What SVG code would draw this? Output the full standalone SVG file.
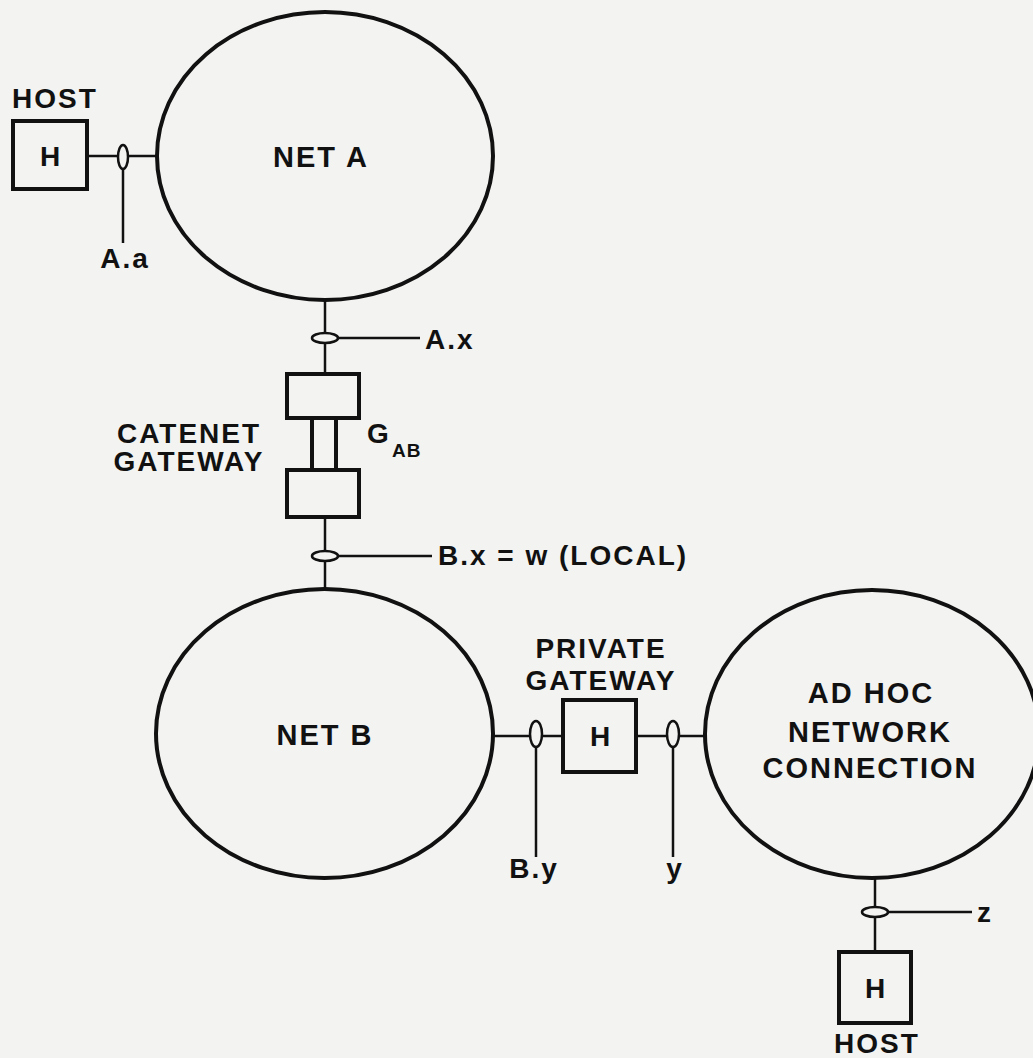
<svg xmlns="http://www.w3.org/2000/svg" width="1033" height="1058" viewBox="0 0 1033 1058">
<style>
.bg{fill:#f3f3f1}
.net{fill:none;stroke:#111;stroke-width:4}
.box{fill:none;stroke:#111;stroke-width:4}
.ln{fill:none;stroke:#111;stroke-width:2.5}
.tap{fill:#f3f3f1;stroke:#111;stroke-width:2.5}
text{font-family:"Liberation Sans",Arial,sans-serif;font-weight:bold;fill:#111;letter-spacing:2px}
.big{font-size:29px}
.mid{font-size:28px}
.sub{font-size:19px;letter-spacing:1px}
</style>
<rect class="bg" x="0" y="0" width="1033" height="1058"/>

<g id="connectors">
  <line class="ln" x1="88" y1="156" x2="157" y2="156"/>
  <line class="ln" x1="123" y1="158" x2="123" y2="243"/>
  <ellipse class="tap" cx="123" cy="157" rx="5" ry="12"/>
  <line class="ln" x1="325" y1="300" x2="325" y2="374"/>
  <line class="ln" x1="325" y1="338" x2="420" y2="338"/>
  <ellipse class="tap" cx="325" cy="338" rx="13" ry="5"/>
  <line class="box" x1="312" y1="418" x2="312" y2="470"/>
  <line class="box" x1="336" y1="418" x2="336" y2="470"/>
  <line class="ln" x1="325" y1="517" x2="325" y2="589"/>
  <line class="ln" x1="325" y1="556" x2="432" y2="556"/>
  <ellipse class="tap" cx="325" cy="556" rx="13" ry="5"/>
  <line class="ln" x1="493" y1="736" x2="563" y2="736"/>
  <line class="ln" x1="636" y1="736" x2="705" y2="736"/>
  <line class="ln" x1="536" y1="738" x2="536" y2="857"/>
  <ellipse class="tap" cx="536" cy="734" rx="6" ry="13"/>
  <line class="ln" x1="673" y1="738" x2="673" y2="857"/>
  <ellipse class="tap" cx="673" cy="734" rx="6" ry="13"/>
  <line class="ln" x1="875" y1="878" x2="875" y2="952"/>
  <line class="ln" x1="875" y1="912" x2="972" y2="912"/>
  <ellipse class="tap" cx="875" cy="912" rx="13" ry="5"/>
</g>

<g id="host-a">
  <rect class="box" x="13" y="121" width="74" height="68"/>
  <text class="mid" x="51" y="166" text-anchor="middle">H</text>
  <text class="mid" x="55" y="108" text-anchor="middle">HOST</text>
</g>
<text id="label-Aa" class="mid" x="125" y="268" text-anchor="middle">A.a</text>

<g id="net-a">
  <ellipse class="net" cx="325" cy="156" rx="168" ry="144"/>
  <text class="big" x="321" y="167" text-anchor="middle">NET A</text>
</g>
<text id="label-Ax" class="mid" x="425" y="349">A.x</text>

<g id="catenet-gateway">
  <rect class="box" x="287" y="374" width="72" height="44"/>
  <rect class="box" x="287" y="470" width="72" height="47"/>
  <text class="mid" x="189" y="443" text-anchor="middle">CATENET</text>
  <text class="mid" x="189" y="471" text-anchor="middle">GATEWAY</text>
  <text class="mid" x="367" y="443">G</text>
  <text class="sub" x="392" y="457">AB</text>
</g>
<text id="label-Bx" class="mid" x="438" y="565">B.x = w (LOCAL)</text>

<g id="net-b">
  <ellipse class="net" cx="324.5" cy="733.5" rx="168.5" ry="144.5"/>
  <text class="big" x="325" y="745" text-anchor="middle">NET B</text>
</g>

<g id="private-gateway">
  <rect class="box" x="563" y="700" width="73" height="72"/>
  <text class="mid" x="601" y="746" text-anchor="middle">H</text>
  <text class="mid" x="601" y="658" text-anchor="middle">PRIVATE</text>
  <text class="mid" x="601" y="690" text-anchor="middle">GATEWAY</text>
</g>
<text id="label-By" class="mid" x="534" y="878" text-anchor="middle">B.y</text>
<text id="label-y" class="mid" x="675" y="878" text-anchor="middle">y</text>

<g id="ad-hoc">
  <ellipse class="net" cx="872" cy="734" rx="167" ry="144"/>
  <text class="big" x="871" y="703" text-anchor="middle">AD HOC</text>
  <text class="big" x="870" y="742" text-anchor="middle">NETWORK</text>
  <text class="big" x="870" y="778" text-anchor="middle">CONNECTION</text>
</g>
<text id="label-z" class="mid" x="977" y="922">z</text>

<g id="host-b">
  <rect class="box" x="839" y="952" width="72" height="71"/>
  <text class="mid" x="876" y="998" text-anchor="middle">H</text>
  <text class="mid" x="877" y="1053" text-anchor="middle">HOST</text>
</g>
</svg>
